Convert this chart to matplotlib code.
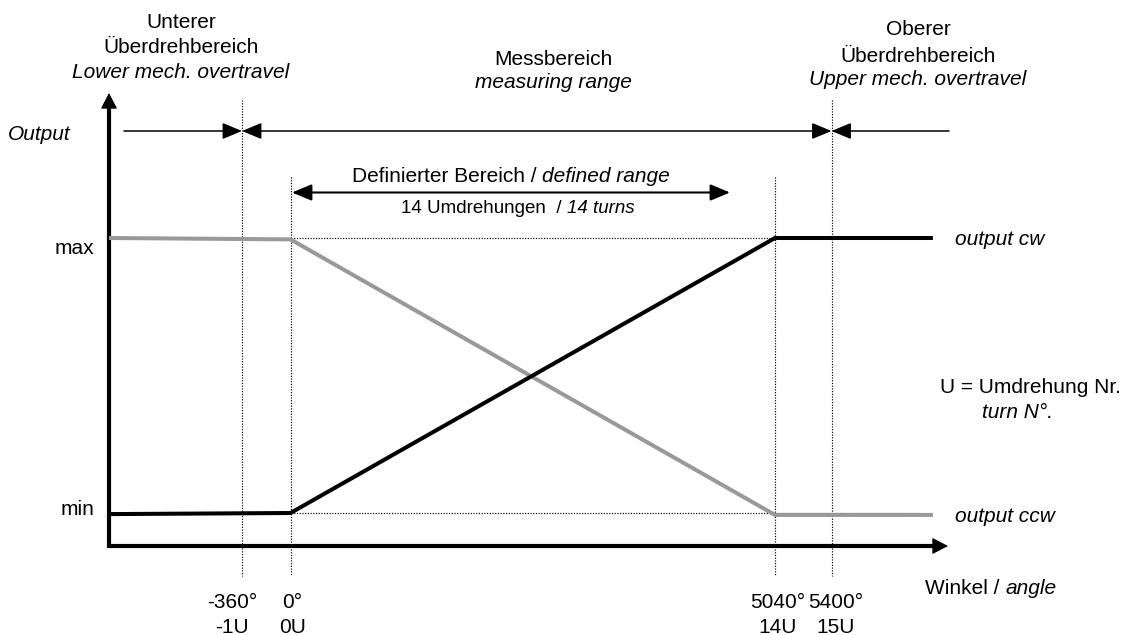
import numpy as np
import matplotlib
matplotlib.use('Agg')
import matplotlib.pyplot as plt

plt.rcParams['font.family'] = ['Liberation Sans', 'DejaVu Sans']

################################################################################
### data (schematic)
tick_deg = [-360, 0, 5040, 5400]
tick_turn = ['-1U', '0U', '14U', '15U']
curve_deg = [-1080, 0, 5040, 6340]
cw_level = [-0.004, 0.0, 1.0, 1.0]       # output cw, 0 = min, 1 = max
ccw_level = [1.0, 0.995, -0.007, -0.007] # output ccw

################################################################################
### layout: where the (non linear) angle axis sits in the picture, pixels
anchor_deg = [-1080, -360, 0, 5040, 5400, 6480]
anchor_px = [109, 242, 290.5, 775, 831.5, 948]
y_min_px, y_max_px = 513, 238
axis_y = 546
label_dx = [-10, 2, 3, 4]

def px(deg):
    return np.interp(deg, anchor_deg, anchor_px)

def py(level):
    return y_min_px - np.asarray(level) * (y_min_px - y_max_px)

fig = plt.figure(figsize=(11.27, 6.35), dpi=100)
ax = fig.add_axes([0, 0, 1, 1])
ax.set_xlim(0, 1127)
ax.set_ylim(635, 0)
ax.axis('off')

FS = 15
grey = '#999999'
dots = (0, (1, 1.3))

def arrow(tail, tip, style='-|>', lw=1.1, hl=12, hw=5):
    ax.annotate('', xy=tip, xytext=tail,
                arrowprops=dict(arrowstyle='%s,head_length=%g,head_width=%g' % (style, hl, hw),
                                lw=lw, color='k', shrinkA=0, shrinkB=0,
                                mutation_scale=1))

def runs(x, y, parts, size=FS):
    # write text pieces one after the other (regular / italic mixed)
    r = fig.canvas.get_renderer()
    inv = ax.transData.inverted()
    gap = 0.278 * size * fig.dpi / 72.
    for s, st in parts:
        t = ax.text(x, y, s, fontsize=size, style=st, ha='left', va='baseline')
        bb = t.get_window_extent(renderer=r)
        x = inv.transform((bb.x1, bb.y0))[0] + gap

# dotted guide lines
for d in tick_deg:
    top = 100 if d in (tick_deg[0], tick_deg[-1]) else 177
    ax.plot([px(d), px(d)], [top, 576], color='k', lw=0.85, ls=dots)
for lv in (0, 1):
    ax.plot([px(0), 920], [py(lv), py(lv)], color='k', lw=0.85, ls=dots)

# axes with arrow heads
x0 = px(anchor_deg[0])
ax.plot([x0, x0, 934], [107, axis_y, axis_y], color='k', lw=3,
        solid_joinstyle='miter', solid_capstyle='butt')
arrow((x0, 108), (x0, 93), lw=0.8, hl=10, hw=5.2)
arrow((933, axis_y), (948, axis_y), lw=0.8, hl=10, hw=5.2)

# output curves
ax.plot(px(curve_deg), py(ccw_level), color=grey, lw=2.9, solid_capstyle='butt')
ax.plot(px(curve_deg), py(cw_level), color='k', lw=2.9, solid_capstyle='butt')

# range arrows at the top
ya = 131
arrow((124, ya), (px(-360), ya))
arrow((px(-360), ya), (px(5400), ya), style='<|-|>')
arrow((949, ya), (px(5400), ya))
arrow((292, 192.5), (730, 192.5), style='<|-|>', lw=1.5)

# range labels
for s, y, st in [('Unterer', 28, 'normal'), ('Überdrehbereich', 53, 'normal'),
                 ('Lower mech. overtravel', 78, 'italic')]:
    ax.text(181, y, s, fontsize=FS, style=st, ha='center', va='baseline')
for s, y, st in [('Messbereich', 65, 'normal'), ('measuring range', 88, 'italic')]:
    ax.text(553, y, s, fontsize=FS, style=st, ha='center', va='baseline')
for s, y, st in [('Oberer', 35, 'normal'), ('Überdrehbereich', 62, 'normal'),
                 ('Upper mech. overtravel', 85, 'italic')]:
    ax.text(918, y, s, fontsize=FS, style=st, ha='center', va='baseline')

runs(352, 182, [('Definierter Bereich /', 'normal'), ('defined range', 'italic')])
runs(401, 213, [('14 Umdrehungen  /', 'normal'), ('14 turns', 'italic')], size=13.5)

ax.text(8, 140, 'Output', fontsize=FS, style='italic', va='baseline')
ax.text(94, 254, 'max', fontsize=FS, ha='right', va='baseline')
ax.text(94, 515, 'min', fontsize=FS, ha='right', va='baseline')
ax.text(955, 245, 'output cw', fontsize=FS, style='italic', va='baseline')
ax.text(955, 522, 'output ccw', fontsize=FS, style='italic', va='baseline')
ax.text(940, 393, 'U = Umdrehung Nr.', fontsize=FS, va='baseline')
ax.text(982, 418, 'turn N°.', fontsize=FS, style='italic', va='baseline')
runs(925, 594, [('Winkel /', 'normal'), ('angle', 'italic')])

# tick labels
for d, u, dx in zip(tick_deg, tick_turn, label_dx):
    ax.text(px(d) + dx, 608, '%d°' % d, fontsize=FS, ha='center', va='baseline')
    ax.text(px(d) + dx, 633, u, fontsize=FS, ha='center', va='baseline')

fig.savefig('out.png', dpi=100)
